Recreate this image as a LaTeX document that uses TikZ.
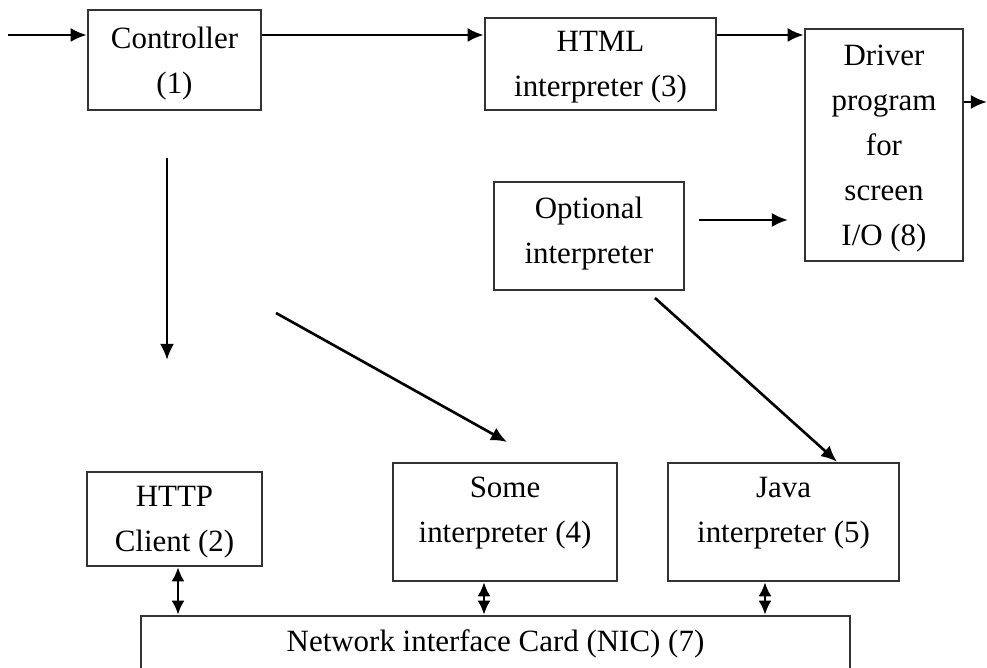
\documentclass[tikz,border=0pt]{standalone}
\usepackage{fontspec}
\setmainfont{Liberation Serif}
\usetikzlibrary{arrows.meta}

\tikzset{
  block/.style={draw=black!80, line width=0.7pt, align=center, inner sep=0pt, text depth=0pt,
    font=\fontsize{8.8}{12.8}\selectfont},
  flow/.style={-{Latex[length=1.6mm, width=1.4mm]}, line width=0.75pt},
  both/.style={{Latex[length=1.4mm, width=1.3mm]}-{Latex[length=1.4mm, width=1.3mm]}, line width=0.75pt}
}

\begin{document}
\begin{tikzpicture}[x=0.01cm, y=-0.01cm]
            \useasboundingbox (0,0) rectangle (987,668);

            % Top row
            \node [block, minimum width=1.73cm, minimum height=1cm] (ctrl) at (174.5,60) {Controller\\(1)};
            \node [block, minimum width=2.31cm, minimum height=0.92cm, text depth=-0.6pt] (html) at (600.5,64) {HTML\\interpreter (3)};
            \node [block, minimum width=1.58cm, minimum height=2.32cm] (drv) at (884,145) {Driver\\program\\for\\screen\\I/O (8)};
            \node [block, minimum width=1.9cm, minimum height=1.08cm, text depth=3.4pt] (opt) at (589,236) {Optional\\interpreter};

            % Bottom row
            \node [block, minimum width=1.75cm, minimum height=0.94cm] (http) at (174.5,519) {HTTP\\Client (2)};
            \node [block, minimum width=2.24cm, minimum height=1.18cm, text depth=7pt] (some) at (505,522) {Some\\interpreter (4)};
            \node [block, minimum width=2.31cm, minimum height=1.18cm, text depth=7pt] (java) at (783.5,522) {Java\\interpreter (5)};
            \node [block, minimum width=7.09cm, minimum height=0.74cm, text depth=7.3pt] (nic) at (495.5,653) {Network interface Card (NIC) (7)};

            % Request path along the top
            \coordinate (in) at (8,35);
            \draw [flow] (in) -- (in -| ctrl.west);
            \draw [flow] (in -| ctrl.east) -- (in -| html.west);
            \draw [flow] (in -| html.east) -- (in -| drv.west);
            \coordinate (out) at (987,102);
            \draw [flow] (out -| drv.east) -- (out);

            % Loose arrows from the controller
            \coordinate (down1) at (167,158);
            \coordinate (down2) at (167,360);
            \draw [flow] (down1) -- (down2);
            \coordinate (diag1) at (276,313);
            \coordinate (diag2) at (507,442);
            \draw [flow] (diag1) -- (diag2);

            % Optional interpreter
            \coordinate (optout) at (699,220);
            \coordinate (drvin) at (788,220);
            \draw [flow] (optout) -- (drvin);
            \coordinate (optdown) at (655,298);
            \draw [flow] (optdown) -- (837,0 |- java.north);

            % Links to the NIC
            \draw [both] (178,0 |- http.south) -- (178,0 |- nic.north);
            \draw [both] (484,0 |- some.south) -- (484,0 |- nic.north);
            \draw [both] (765,0 |- java.south) -- (765,0 |- nic.north);
\end{tikzpicture}
\end{document}
